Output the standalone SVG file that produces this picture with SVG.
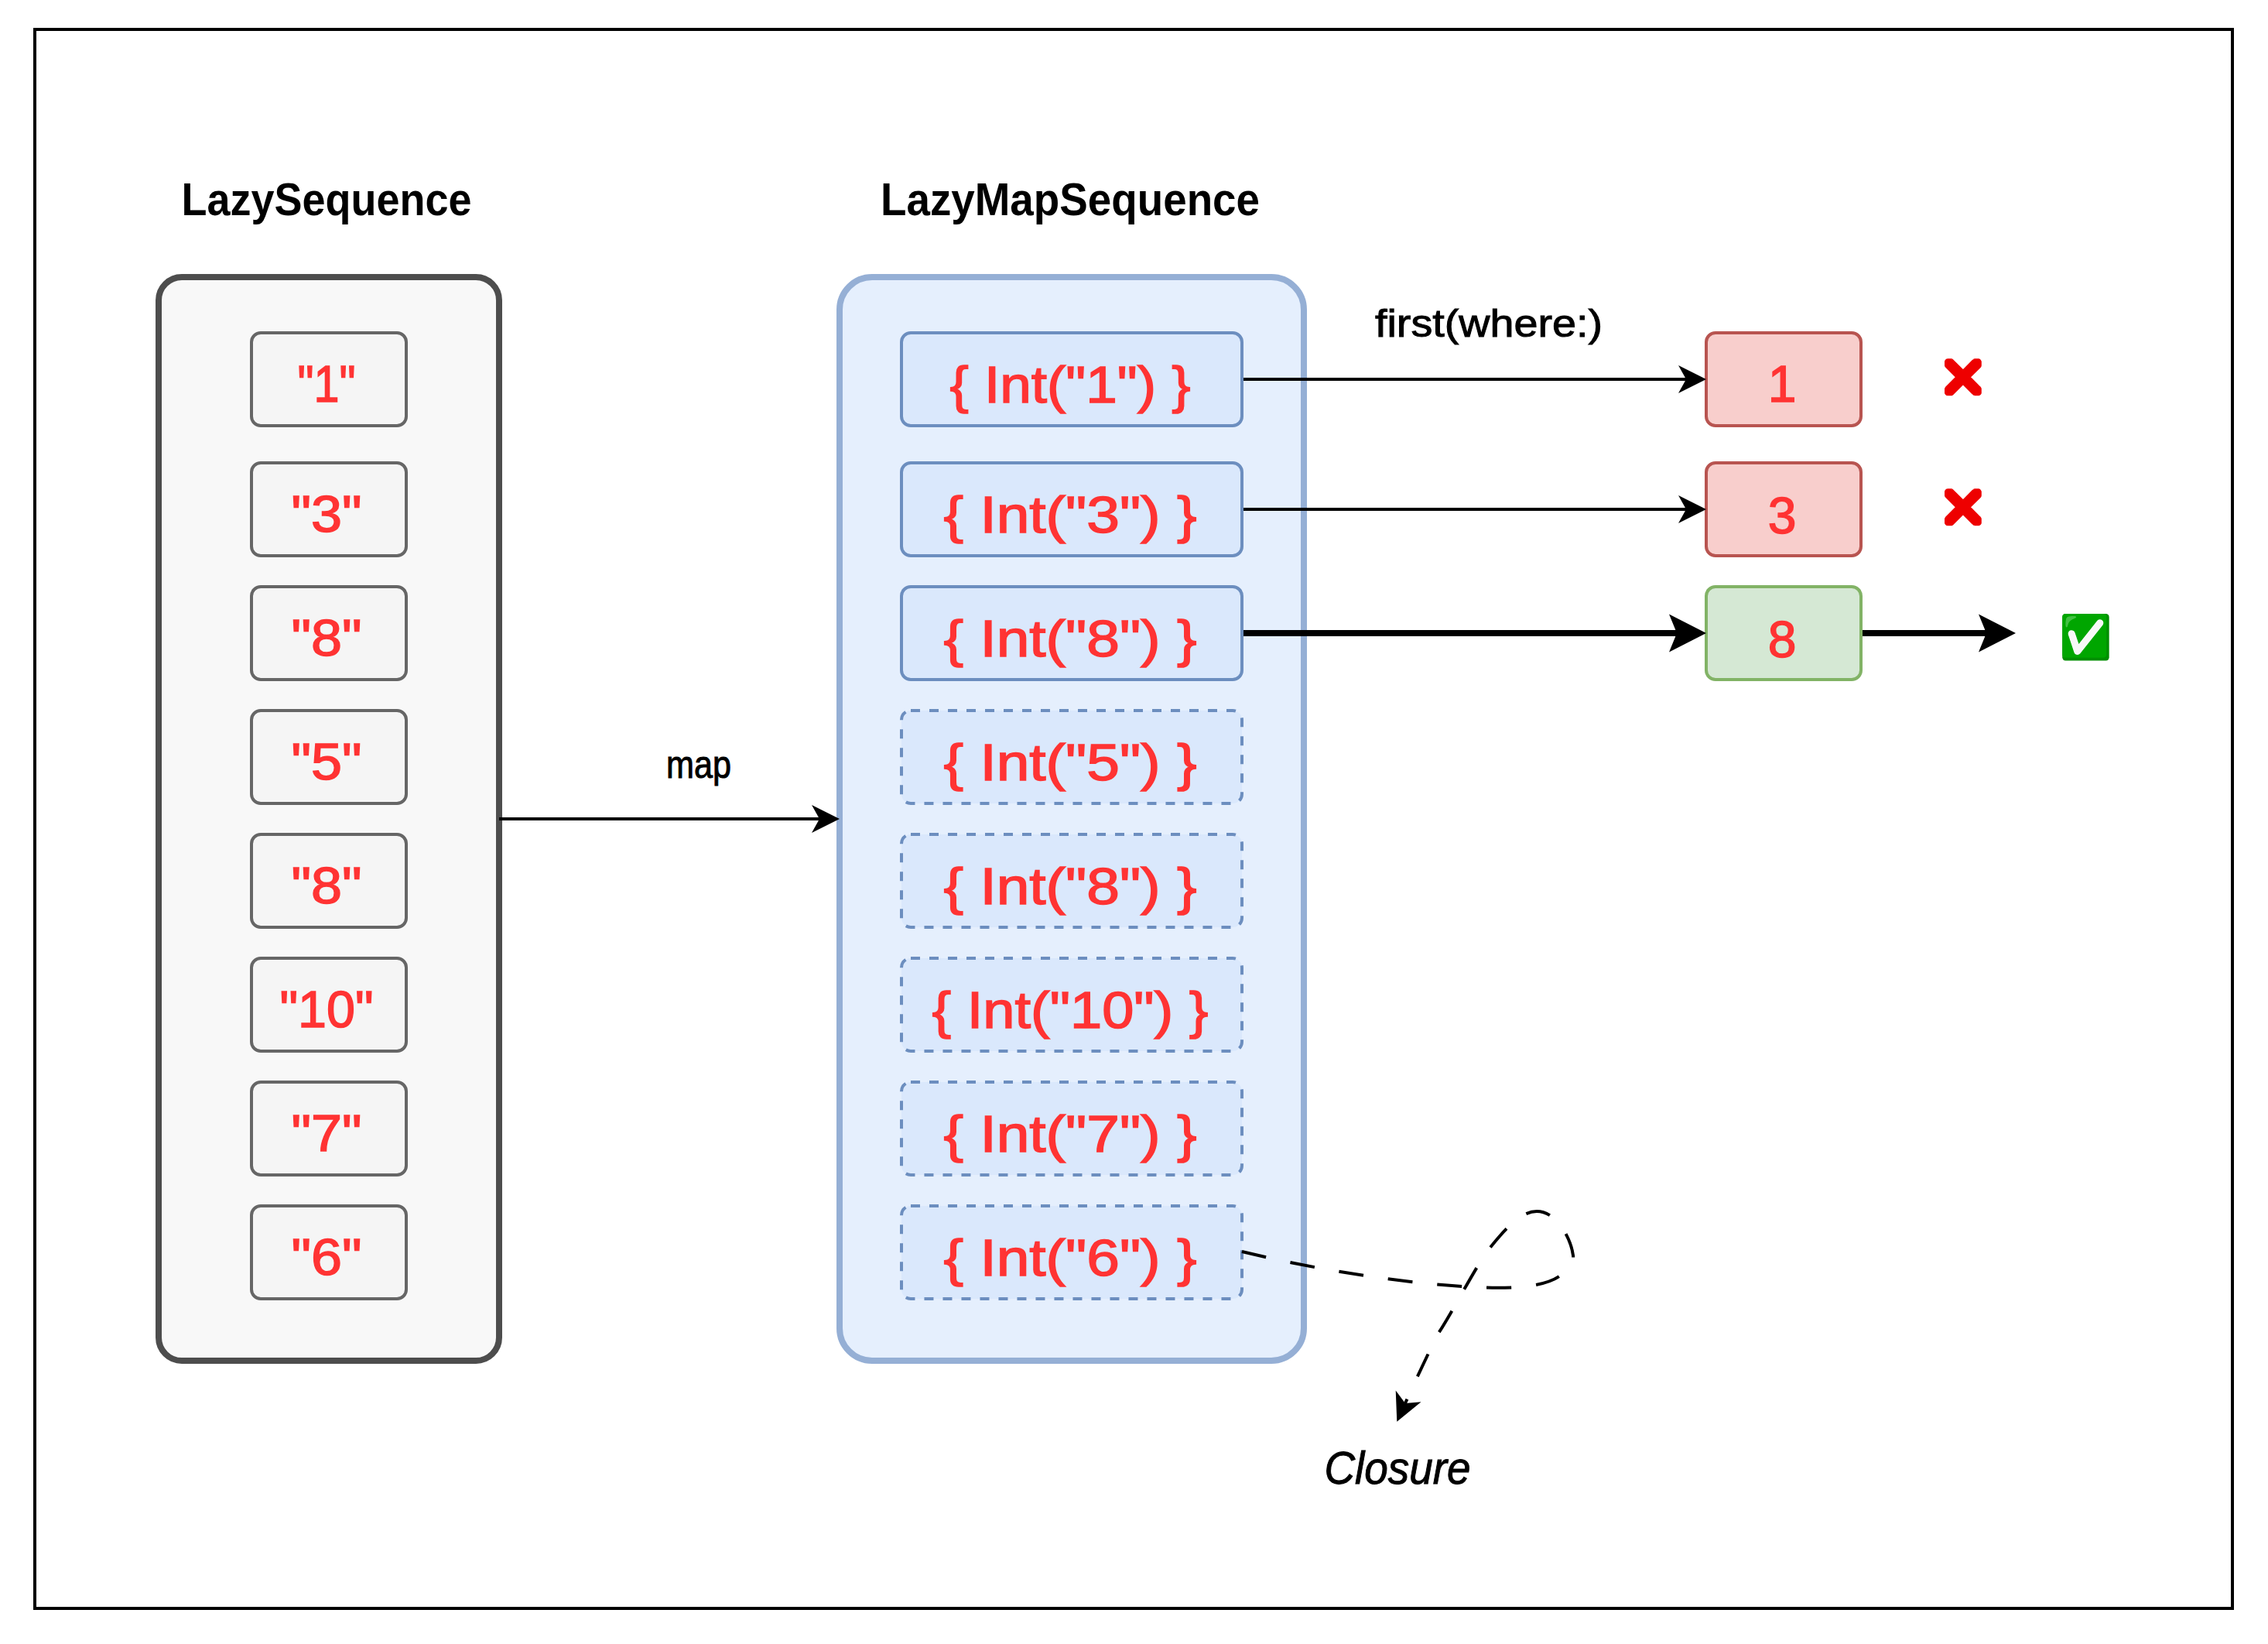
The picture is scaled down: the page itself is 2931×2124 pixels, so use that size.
<svg xmlns="http://www.w3.org/2000/svg" width="2931" height="2124" viewBox="0 0 2931 2124">
<style>
.t{font-family:"Liberation Sans","DejaVu Sans",sans-serif;text-anchor:middle}
.title{font-size:60px;font-weight:700;fill:#000}
.lab{font-size:50px;fill:#000;stroke:#000;stroke-width:1}
.red{font-size:66px;fill:#ff3333;stroke:#ff3333;stroke-width:1.500}
.src{fill:#f5f5f5;stroke:#666;stroke-width:4}
.map{fill:#dae8fc;stroke:#6c8ebf;stroke-width:4}
.lazy{stroke-dasharray:12 12}
.conn{fill:none;stroke:#000;stroke-width:4}
.thick{stroke-width:8}
.dash{stroke-dasharray:32 32}
</style>
<defs>
<marker id="a" markerUnits="userSpaceOnUse" markerWidth="40" markerHeight="40" viewBox="0 -20 40 40" refX="10" refY="0" orient="auto"><path d="M0-18L36 0L0 18L10 0Z"/></marker>
<marker id="b" markerUnits="userSpaceOnUse" markerWidth="52" markerHeight="52" viewBox="0 -26 52 52" refX="10" refY="0" orient="auto"><path d="M0-24.500L48 0L0 24.500L10 0Z"/></marker>
<filter id="solidred" x="-10%" y="-10%" width="120%" height="120%"><feMorphology in="SourceAlpha" operator="dilate" radius="1.500" result="d"/><feFlood flood-color="#ee0000"/><feComposite in2="d" operator="in"/></filter>
<filter id="deepgreen" x="-5%" y="-5%" width="110%" height="110%" color-interpolation-filters="sRGB"><feColorMatrix type="matrix" values="0 0 1.410 0 -0.410  0 1.170 0 0 -0.170  0 0 1.410 0 -0.410  0 0 0 1 0"/></filter>
</defs>
<rect width="2931" height="2124" fill="#fff"/>
<rect id="frame" x="45" y="38" width="2840" height="2040" fill="#fff" stroke="#000" stroke-width="4"/>
<g id="lazy-seq"><rect x="205" y="358" width="440" height="1400" rx="30" fill="#f8f8f8" stroke="#4d4d4d" stroke-width="8"/>
<text class="t title" x="422" y="278" textLength="375" lengthAdjust="spacingAndGlyphs">LazySequence</text></g>
<g id="lazy-map"><rect x="1085" y="358" width="600" height="1400" rx="42" fill="#e5effd" stroke="#95afd5" stroke-width="8"/>
<text class="t title" x="1383" y="278" textLength="490" lengthAdjust="spacingAndGlyphs">LazyMapSequence</text></g>
<g id="s1"><rect class="src" x="325" y="430" width="200" height="120" rx="12"/><text class="t red" x="422" y="519" textLength="75" lengthAdjust="spacingAndGlyphs">"1"</text></g>
<g id="s3"><rect class="src" x="325" y="598" width="200" height="120" rx="12"/><text class="t red" x="422" y="687" textLength="91" lengthAdjust="spacingAndGlyphs">"3"</text></g>
<g id="s8"><rect class="src" x="325" y="758" width="200" height="120" rx="12"/><text class="t red" x="422" y="847" textLength="91" lengthAdjust="spacingAndGlyphs">"8"</text></g>
<g id="s5"><rect class="src" x="325" y="918" width="200" height="120" rx="12"/><text class="t red" x="422" y="1007" textLength="91" lengthAdjust="spacingAndGlyphs">"5"</text></g>
<g id="s8b"><rect class="src" x="325" y="1078" width="200" height="120" rx="12"/><text class="t red" x="422" y="1167" textLength="91" lengthAdjust="spacingAndGlyphs">"8"</text></g>
<g id="s10"><rect class="src" x="325" y="1238" width="200" height="120" rx="12"/><text class="t red" x="422" y="1327" textLength="121" lengthAdjust="spacingAndGlyphs">"10"</text></g>
<g id="s7"><rect class="src" x="325" y="1398" width="200" height="120" rx="12"/><text class="t red" x="422" y="1487" textLength="91" lengthAdjust="spacingAndGlyphs">"7"</text></g>
<g id="s6"><rect class="src" x="325" y="1558" width="200" height="120" rx="12"/><text class="t red" x="422" y="1647" textLength="91" lengthAdjust="spacingAndGlyphs">"6"</text></g>
<g id="m1"><rect class="map" x="1165" y="430" width="440" height="120" rx="12"/><text class="t red" x="1383" y="520" textLength="311" lengthAdjust="spacingAndGlyphs">{ Int("1") }</text></g>
<g id="m3"><rect class="map" x="1165" y="598" width="440" height="120" rx="12"/><text class="t red" x="1383" y="688" textLength="327" lengthAdjust="spacingAndGlyphs">{ Int("3") }</text></g>
<g id="m8"><rect class="map" x="1165" y="758" width="440" height="120" rx="12"/><text class="t red" x="1383" y="848" textLength="327" lengthAdjust="spacingAndGlyphs">{ Int("8") }</text></g>
<g id="m5"><rect class="map lazy" x="1165" y="918" width="440" height="120" rx="12"/><text class="t red" x="1383" y="1008" textLength="327" lengthAdjust="spacingAndGlyphs">{ Int("5") }</text></g>
<g id="m8b"><rect class="map lazy" x="1165" y="1078" width="440" height="120" rx="12"/><text class="t red" x="1383" y="1168" textLength="327" lengthAdjust="spacingAndGlyphs">{ Int("8") }</text></g>
<g id="m10"><rect class="map lazy" x="1165" y="1238" width="440" height="120" rx="12"/><text class="t red" x="1383" y="1328" textLength="357" lengthAdjust="spacingAndGlyphs">{ Int("10") }</text></g>
<g id="m7"><rect class="map lazy" x="1165" y="1398" width="440" height="120" rx="12"/><text class="t red" x="1383" y="1488" textLength="327" lengthAdjust="spacingAndGlyphs">{ Int("7") }</text></g>
<g id="m6"><rect class="map lazy" x="1165" y="1558" width="440" height="120" rx="12"/><text class="t red" x="1383" y="1648" textLength="327" lengthAdjust="spacingAndGlyphs">{ Int("6") }</text></g>
<g id="r1"><rect x="2205" y="430" width="200" height="120" rx="12" fill="#f8cecc" stroke="#b85450" stroke-width="4"/><text class="t red" x="2303" y="519">1</text></g>
<g id="r3"><rect x="2205" y="598" width="200" height="120" rx="12" fill="#f8cecc" stroke="#b85450" stroke-width="4"/><text class="t red" x="2303" y="689">3</text></g>
<g id="r8"><rect x="2205" y="758" width="200" height="120" rx="12" fill="#d5e8d4" stroke="#82b366" stroke-width="4"/><text class="t red" x="2303" y="849">8</text></g>
<g id="x1"><text class="t" x="2537" y="501" font-size="40" filter="url(#solidred)">❌</text></g>
<g id="x3"><text class="t" x="2537" y="669" font-size="40" filter="url(#solidred)">❌</text></g>
<g id="ok"><text class="t" x="2695" y="842" font-size="55" filter="url(#deepgreen)">✅</text></g>
<g id="labels">
<text class="t lab" x="1924" y="435" textLength="294" lengthAdjust="spacingAndGlyphs">first(where:)</text>
<text class="t lab" x="903" y="1005" textLength="84" lengthAdjust="spacingAndGlyphs">map</text>
<text class="t" x="1806" y="1917" font-size="60" font-style="italic" fill="#000" stroke="#000" stroke-width="1" textLength="189" lengthAdjust="spacingAndGlyphs">Closure</text>
</g>
<g id="connectors">
<path class="conn" marker-end="url(#a)" d="M645 1058H1059"/>
<path class="conn" marker-end="url(#a)" d="M1607 490H2179"/>
<path class="conn" marker-end="url(#a)" d="M1607 658H2179"/>
<path class="conn thick" marker-end="url(#b)" d="M1607 818H2167"/>
<path class="conn thick" marker-end="url(#b)" d="M2407 818H2567"/>
<path class="conn dash" marker-end="url(#a)" d="M1605 1617C1700 1640 1800 1656 1890 1662C1935 1665 1990 1666 2015 1649C2030 1640 2034 1630 2033 1622C2030 1600 2012 1565 1986 1565C1965 1565 1945 1588 1924 1614C1905 1640 1880 1690 1858 1724C1845 1750 1830 1782 1816 1813"/>
</g>
</svg>
